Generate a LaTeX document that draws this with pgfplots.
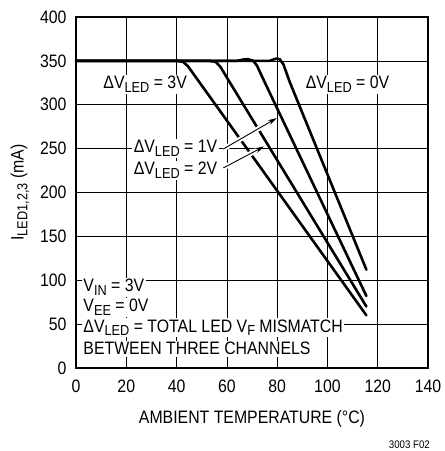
\documentclass[border=0pt]{standalone}
\usepackage{pgfplots}
\pgfplotsset{compat=1.18}
\usetikzlibrary{arrows.meta}
\usepackage{fontspec}
\setmainfont{Liberation Sans}[FakeStretch=0.88]
\newcommand\sub[1]{\raisebox{-0.4ex}{\fontsize{14.5bp}{14.5bp}\selectfont #1}}
\begin{document}
\begin{tikzpicture}[font=\fontsize{18bp}{20bp}\selectfont]
\begin{axis}[name=ax, scale only axis, width=352bp, height=351bp,
  xmin=0, xmax=140, ymin=0, ymax=400,
  xtick={0,20,...,140}, ytick={0,50,...,400},
  grid=major, major grid style={black, line width=0.6bp},
  axis line style={line width=1.2bp},
  tick style={black, line width=0.6bp}, major tick length=4bp, tick align=inside,
  /pgf/number format/assume math mode=true,
  xticklabel style={yshift=-8bp},
  yticklabel style={xshift=-6bp},
  xlabel={AMBIENT TEMPERATURE (°C)},
  xlabel style={yshift=-11bp},
  ylabel={I\sub{LED1,2,3} (mA)},
  ylabel style={yshift=4bp},
  curve/.style={black, no markers, line width=2.6bp, line join=round, line cap=round},
  clip=false]
% dV = 3V
\addplot[curve] coordinates {(0,350) (40,350) (42.5,349) (44.5,344) (47,334) (115.5,60)};
% dV = 2V
\addplot[curve] coordinates {(0,350) (53,350) (55.5,349) (57.5,343) (60,331) (115.5,70)};
% dV = 1V
\addplot[curve] coordinates {(0,350) (64,350) (66.5,351.5) (68.5,352) (70.5,350) (72,344.5) (75,326) (115.5,82)};
% dV = 0V
\addplot[curve] coordinates {(0,350) (77,350) (79.5,352.5) (81,352) (82.5,346) (85,326) (115.5,112)};
\draw[line width=0.9bp, -{Stealth[length=9bp,width=5bp]}, preaction={draw=white, line width=5bp, -, shorten >=6bp}] (axis cs:58.6,249.6) -- (axis cs:79.9,284.9);
\draw[line width=0.9bp, -{Stealth[length=9bp,width=5bp]}, preaction={draw=white, line width=5bp, -, shorten >=6bp}] (axis cs:58.6,228) -- (axis cs:74.8,252.5);
\node[fill=white, inner sep=1.5bp] at (axis cs:27.5,323) {ΔV\sub{LED} = 3V};
\node[fill=white, inner sep=1.5bp] at (axis cs:108,323) {ΔV\sub{LED} = 0V};
\node[fill=white, inner sep=1.5bp, anchor=west] at (axis cs:22.3,250) {ΔV\sub{LED} = 1V};
\node[fill=white, inner sep=1.5bp, anchor=west] at (axis cs:22.3,225) {ΔV\sub{LED} = 2V};
\node[fill=white, inner sep=1.5bp, anchor=west] at (axis cs:2.3,92) {V\sub{IN} = 3V};
\node[fill=white, inner sep=1.5bp, anchor=west] at (axis cs:2.3,69) {V\sub{EE} = 0V};
\node[fill=white, inner sep=1.5bp, anchor=west] at (axis cs:2.3,46) {ΔV\sub{LED} = TOTAL LED V\sub{F} MISMATCH};
\node[fill=white, inner sep=1.5bp, anchor=west] at (axis cs:2.3,22) {BETWEEN THREE CHANNELS};
\end{axis}
\node[anchor=base east, inner sep=0pt, font=\fontsize{11bp}{12bp}\selectfont] at ([xshift=2bp, yshift=-80bp]ax.south east) {3003 F02};
\path ([xshift=-76bp, yshift=-83bp]ax.south west) rectangle ([xshift=13bp, yshift=17bp]ax.north east);
\end{tikzpicture}
\end{document}
